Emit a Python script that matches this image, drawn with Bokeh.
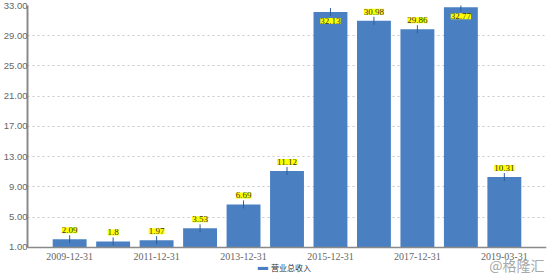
import math
from bokeh.plotting import figure
from bokeh.models import (ColumnDataSource, FactorRange, Range1d, FixedTicker,
                          NumeralTickFormatter, LabelSet, Label, Legend, LegendItem, Span)
from bokeh.embed import file_html
from bokeh.resources import INLINE

categories = ["2009-12-31", "2010-12-31", "2011-12-31", "2012-12-31", "2013-12-31",
              "2014-12-31", "2015-12-31", "2016-12-31", "2017-12-31", "2018-12-31",
              "2019-03-31"]
revenue = [2.09, 1.8, 1.97, 3.53, 6.69, 11.12, 32.13, 30.98, 29.86, 32.77, 10.31]
shown_labels = ["2009-12-31", "2011-12-31", "2013-12-31", "2015-12-31",
                "2017-12-31", "2019-03-31"]
y_ticks = [1, 5, 9, 13, 17, 21, 25, 29, 33]
series_name = "营业总收入"
watermark = "@格隆汇"

Y_MIN, Y_MAX = 1, 33
Y_VIEW_BOTTOM = -2.97     # frame extends below the axis to hold legend/watermark
FLIP_ABOVE = 31.5
BAR_COLOR = "#4a80c2"
PIN_COLOR = "#2d5c99"
AXIS_COLOR = "#8a8a8a"
FONT = "Noto Sans CJK SC"
NUM_FONT = "Liberation Sans"

offsets = [-9 if v > FLIP_ABOVE else 9 for v in revenue]
texts = [("%g" % v) for v in revenue]
src = ColumnDataSource(dict(cat=categories, val=revenue, off=offsets, txt=texts))
xl_src = ColumnDataSource(dict(cat=shown_labels, y=[Y_MIN] * len(shown_labels)))

p = figure(x_range=FactorRange(factors=categories, range_padding=0.47,
                               range_padding_units="absolute"),
           y_range=Range1d(Y_VIEW_BOTTOM, Y_MAX), width=554, height=277,
           output_backend="svg", toolbar_location=None, x_axis_location=None,
           min_border_left=27, min_border_right=8, min_border_top=5,
           min_border_bottom=0)
p.outline_line_color = None
p.background_fill_color = "white"

# grid
p.xgrid.grid_line_color = None
p.ygrid.ticker = FixedTicker(ticks=y_ticks)
p.ygrid.grid_line_color = "#c8c8c8"
p.ygrid.grid_line_dash = "2 3"

r = p.vbar(x="cat", top="val", bottom=Y_MIN, width=0.78, source=src,
           fill_color=BAR_COLOR, line_color=None)
p.scatter(x="cat", y="val", marker="dash", angle=math.pi / 2, size=8,
          line_color=PIN_COLOR, line_width=1, source=src)

# x axis line
p.add_layout(Span(location=Y_MIN, dimension="width", line_color=AXIS_COLOR,
                  line_width=1.5))

labels = LabelSet(x="cat", y="val", text="txt", y_offset="off", source=src,
                  text_align="center", text_baseline="middle",
                  text_font_size="9px", text_font=NUM_FONT, text_color="#333333",
                  background_fill_color="#ffff00")
p.add_layout(labels)

# x tick labels
xlabels = LabelSet(x="cat", y="y", text="cat", y_offset=-9, source=xl_src,
                   text_align="center", text_baseline="middle",
                   text_font_size="10px", text_font=NUM_FONT, text_color="#666666")
p.add_layout(xlabels)

# y axis
p.yaxis.ticker = FixedTicker(ticks=y_ticks)
p.yaxis.bounds = (Y_MIN, Y_MAX)
p.yaxis.formatter = NumeralTickFormatter(format="0.00")
p.yaxis.major_tick_line_color = None
p.yaxis.minor_tick_line_color = None
p.yaxis.major_tick_out = 0
p.yaxis.minor_tick_out = 0
p.yaxis.major_label_standoff = 0
p.yaxis.axis_line_color = AXIS_COLOR
p.yaxis.axis_line_width = 2
p.yaxis.major_label_text_font_size = "9.5px"
p.yaxis.major_label_text_font = NUM_FONT
p.yaxis.major_label_text_color = "#666666"

legend = Legend(items=[LegendItem(label=series_name, renderers=[r])],
                location=(229, 4), orientation="horizontal",
                glyph_width=13, glyph_height=4, label_standoff=2,
                label_text_font_size="8px", label_text_font=FONT,
                label_text_color="#333333", padding=0, margin=0,
                border_line_color=None, background_fill_alpha=0,
                label_height=10)
p.add_layout(legend, "center")

wm = Label(x=517, y=13, x_units="screen", y_units="screen", text=watermark,
           text_align="right", text_baseline="middle", text_font_size="14px",
           text_font=FONT, text_color="#a8a8a8")
p.add_layout(wm)

open("out.html", "w").write(file_html(p, INLINE))
